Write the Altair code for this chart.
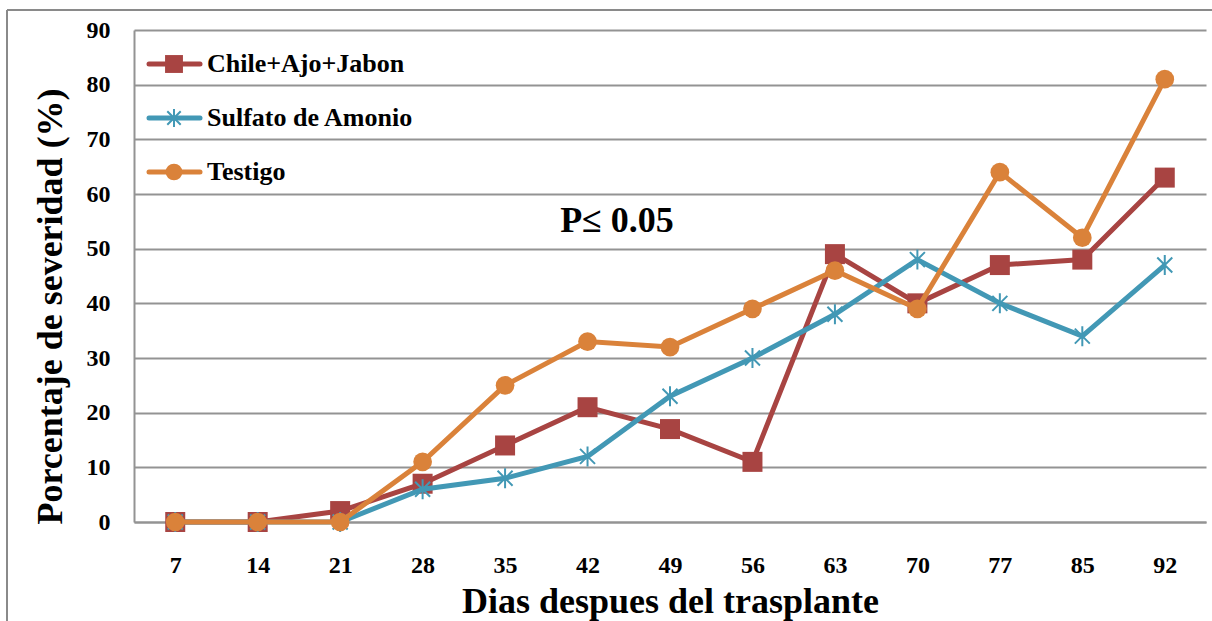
import altair as alt
import pandas as pd

# Days after transplant (categorical axis)
dias = [7, 14, 21, 28, 35, 42, 49, 56, 63, 70, 77, 85, 92]

# Severity percentage per treatment
chile_ajo_jabon = [0, 0, 2, 7, 14, 21, 17, 11, 49, 40, 47, 48, 63]
sulfato_amonio = [0, 0, 0, 6, 8, 12, 23, 30, 38, 48, 40, 34, 47]
testigo = [0, 0, 0, 11, 25, 33, 32, 39, 46, 39, 64, 52, 81]

series_names = ["Chile+Ajo+Jabon", "Sulfato de Amonio", "Testigo"]
series_values = [chile_ajo_jabon, sulfato_amonio, testigo]
series_colors = ["#A84442", "#4298B5", "#DA823A"]

FONT = "Liberation Serif"
GRID = "#939393"
W, H = 1072, 492

rows = []
for name, vals in zip(series_names, series_values):
    for d, v in zip(dias, vals):
        rows.append({"serie": name, "dia": str(d), "valor": v})
df = pd.DataFrame(rows)

dia_labels = [str(d) for d in dias]

x_enc = alt.X(
    "dia:O",
    sort=dia_labels,
    scale=alt.Scale(type="point", padding=0.5),
    axis=alt.Axis(
        title="Dias despues del trasplante",
        labelAngle=0,
        ticks=False,
        grid=False,
        labelPadding=31,
        titleBaseline="middle",
        titleY=79,
    ),
)
y_enc = alt.Y(
    "valor:Q",
    scale=alt.Scale(domain=[0, 90], nice=False),
    axis=alt.Axis(
        title="Porcentaje de severidad (%)",
        values=list(range(0, 91, 10)),
        ticks=False,
        grid=True,
        labelPadding=24,
        titleBaseline="middle",
        titleX=-84,
        titleY=276,
    ),
)
color_enc = alt.Color(
    "serie:N",
    scale=alt.Scale(domain=series_names, range=series_colors),
    legend=None,
)

asterisk = "M0,-1V1M-0.75,-0.75L0.75,0.75M-0.75,0.75L0.75,-0.75"
marker_styles = {
    "Chile+Ajo+Jabon": dict(shape="square", size=400, filled=True),
    "Sulfato de Amonio": dict(shape=asterisk, size=400, filled=False, strokeWidth=2),
    "Testigo": dict(shape="circle", size=350, filled=True),
}

layers = []
for name in series_names:
    sub = alt.Chart(df).transform_filter(alt.datum.serie == name)
    line = sub.mark_line(strokeWidth=5).encode(x=x_enc, y=y_enc, color=color_enc)
    pts = sub.mark_point(opacity=1, **marker_styles[name]).encode(
        x=x_enc, y=y_enc, color=color_enc
    )
    layers += [line, pts]

# Significance note
note = alt.Chart(pd.DataFrame({"t": ["P\u2264 0.05"]})).mark_text(
    font=FONT, fontSize=36, fontWeight="bold", color="black",
    align="center", baseline="middle",
).encode(text="t:N", x=alt.value(483), y=alt.datum(55))

# Legend in the upper-left corner of the plot
leg_df = pd.DataFrame({"serie": series_names, "fila": [0, 1, 2]})
leg_y = alt.Y("fila:Q", scale=alt.Scale(domain=[0, 2], range=[34, 142]), axis=None)
leg_base = alt.Chart(leg_df)
leg_line = leg_base.mark_rule(strokeWidth=5, strokeCap="round").encode(
    x=alt.value(15), x2=alt.value(66), y=leg_y, color=color_enc
)
leg_marks = []
for name in series_names:
    st = dict(marker_styles[name])
    st["size"] = int(st["size"] * 0.8)
    leg_marks.append(
        leg_base.transform_filter(alt.datum.serie == name)
        .mark_point(opacity=1, **st)
        .encode(x=alt.value(40), y=leg_y, color=color_enc)
    )
leg_text = leg_base.mark_text(
    font=FONT, fontSize=26, fontWeight="bold", color="black",
    align="left", baseline="middle",
).encode(x=alt.value(73), y=leg_y, text="serie:N")
legend = alt.layer(leg_line, *leg_marks, leg_text)

# Outer frame around the whole figure
frame_left = alt.Chart(pd.DataFrame({"k": [0]})).mark_rule(
    color="#8a8a8a", strokeWidth=2
).encode(x=alt.value(-127), y=alt.value(-20), y2=alt.value(H + 120))
frame_top = alt.Chart(pd.DataFrame({"k": [0]})).mark_rule(
    color="#8a8a8a", strokeWidth=2
).encode(x=alt.value(-127), x2=alt.value(W + 20), y=alt.value(-20))

main = alt.layer(*layers, note)

chart = (
    alt.layer(main, legend, frame_left, frame_top)
    .resolve_scale(y="independent")
    .properties(
        width=W,
        height=H,
        autosize=alt.AutoSizeParams(type="none"),
        padding={"left": 134, "top": 30, "right": 6, "bottom": 99},
        background="white",
    )
    .configure_view(strokeWidth=0)
    .configure_axis(
        labelFont=FONT,
        labelFontSize=24,
        labelFontWeight="bold",
        labelColor="black",
        titleFont=FONT,
        titleFontSize=36,
        titleFontWeight="bold",
        titleColor="black",
        domainColor=GRID,
        domainWidth=2,
        gridColor=GRID,
        gridWidth=2,
    )
)

chart.save("out.html", embed_options={"renderer": "svg", "actions": False})
